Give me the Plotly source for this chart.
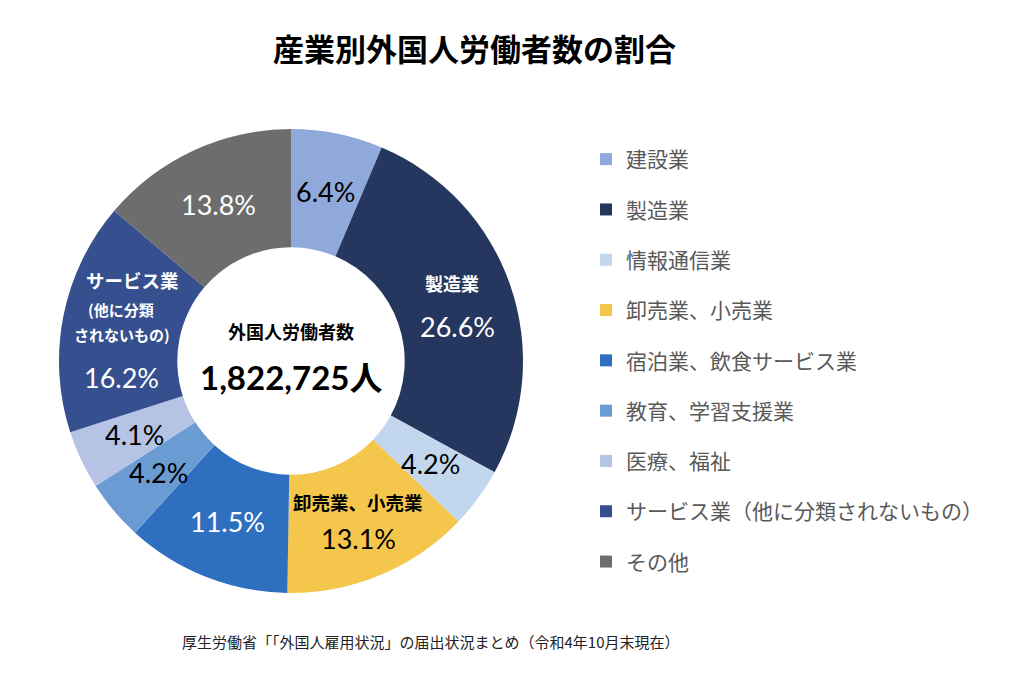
import math
import plotly.graph_objects as go

# ---- data ----
categories = ["建設業", "製造業", "情報通信業", "卸売業、小売業", "宿泊業、飲食サービス業",
              "教育、学習支援業", "医療、福祉", "サービス業（他に分類されないもの）", "その他"]
shares = [6.4, 26.6, 4.2, 13.1, 11.5, 4.2, 4.1, 16.2, 13.8]
slice_names = [[], ["製造業"], [], ["卸売業、小売業"], [], [], [],
               ["サービス業", "(他に分類", "されないもの)"], []]
total_workers = "1,822,725"
title_text = "産業別外国人労働者数の割合"
center_label = "外国人労働者数"
source_text = "厚生労働省「「外国人雇用状況」の届出状況まとめ（令和4年10月末現在）"

# ---- styles ----
colors = ["#8FA9DA", "#25375F", "#C2D6EE", "#F4C64C", "#2F6FC0",
          "#6A9BD3", "#B5C4E5", "#36508F", "#6D6D6D"]
text_colors = ["black", "white", "black", "black", "white", "black", "black", "white", "white"]
name_sizes = [[], [18], [], [18.5], [], [], [], [18.5, 15, 15], []]
name_shifts = [[], [21], [], [19], [], [], [], [47, 18, -7], []]
pct_shifts = [0, -22, 0, -18, 0, 0, 0, -50, 0]
name_xshift = [[], [-2], [], [0], [], [], [], [11, 0, 1], []]
pct_xshift = [0, 3, 0, 1, 0, 0, 0, 0, 0]

W, H = 1024, 677
x0, x1, ytop, ybot = 59, 523, 129, 593
hole = 0.49
JP = "Noto Sans CJK JP"
NUM = "Lato, Noto Sans CJK JP"

fig = go.Figure()
fig.add_trace(go.Pie(
    labels=categories, values=shares, sort=False, direction="clockwise", rotation=0,
    hole=hole, marker=dict(colors=colors, line=dict(width=0)),
    textinfo="none", showlegend=False, hoverinfo="label+percent",
    domain=dict(x=[x0 / W, x1 / W], y=[1 - ybot / H, 1 - ytop / H]),
))

# legend entries (one per category, so spacing can be set)
for cat, col in zip(categories, colors):
    fig.add_trace(go.Scatter(
        x=[None], y=[None], mode="markers", name=cat, legendgroup=cat,
        marker=dict(symbol="square", size=12, color=col),
    ))

# slice labels positioned from the cumulative shares
cx = (x0 + x1) / 2
cy = (ytop + ybot) / 2
R = min(x1 - x0, ybot - ytop) / 2
r_mid = R * (1 + hole) / 2
tot = sum(shares)
cum = 0.0
annotations = []
for i, v in enumerate(shares):
    ang = (cum + v / 2) / tot * 2 * math.pi
    cum += v
    px = cx + r_mid * math.sin(ang)
    py = cy - r_mid * math.cos(ang)
    xp, yp = px / W, 1 - py / H
    for name, sz, sh, xs in zip(slice_names[i], name_sizes[i], name_shifts[i], name_xshift[i]):
        annotations.append(dict(
            x=xp, y=yp, xref="paper", yref="paper", text=name, showarrow=False,
            xanchor="center", yanchor="middle", yshift=sh, xshift=xs,
            font=dict(family=JP, size=sz, color=text_colors[i], weight="bold"),
        ))
    annotations.append(dict(
        x=xp, y=yp, xref="paper", yref="paper", text=f"{v:.1f}%", showarrow=False,
        xanchor="center", yanchor="middle", yshift=pct_shifts[i], xshift=pct_xshift[i],
        font=dict(family=NUM, size=27, color=text_colors[i]),
    ))

# center text
annotations.append(dict(x=cx / W, y=1 - cy / H, xref="paper", yref="paper", text=center_label,
                        showarrow=False, xanchor="center", yanchor="middle", yshift=30,
                        font=dict(family=JP, size=18, color="black", weight="bold")))
annotations.append(dict(x=cx / W, y=1 - cy / H, xref="paper", yref="paper",
                        text=total_workers + "人", showarrow=False, xanchor="center",
                        yanchor="middle", yshift=-16,
                        font=dict(family=NUM, size=33, color="black", weight="bold")))
# source
annotations.append(dict(x=430 / W, y=1 - 641 / H, xref="paper", yref="paper", text=source_text,
                        showarrow=False, xanchor="center", yanchor="middle",
                        font=dict(family=JP, size=15, color="#222222")))

fig.update_layout(
    width=W, height=H, margin=dict(l=0, r=0, t=0, b=0),
    paper_bgcolor="white", plot_bgcolor="white",
    title=dict(text=title_text, x=474.5 / W, xanchor="center", y=1 - 50 / H, yanchor="middle",
               font=dict(family=JP, size=31, color="black", weight="bold")),
    xaxis=dict(visible=False), yaxis=dict(visible=False),
    legend=dict(x=586 / W, y=1 - 139 / H, xanchor="left", yanchor="top",
                font=dict(family=JP, size=21, color="#595959"),
                tracegroupgap=20, bgcolor="rgba(0,0,0,0)"),
    annotations=annotations,
)

fig.write_html("out.html", config={"displayModeBar": False},
               post_script="document.body.style.margin='0px';")
